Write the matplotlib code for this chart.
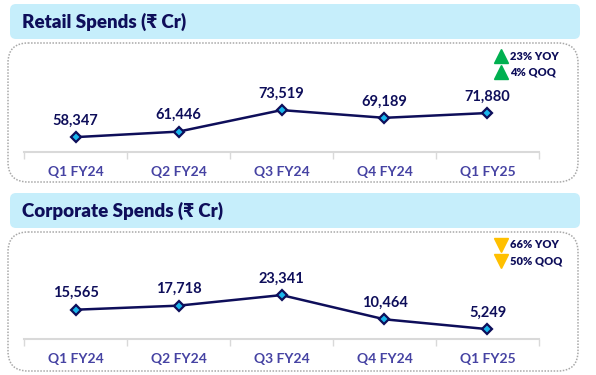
import matplotlib

matplotlib.use("Agg")
import matplotlib.pyplot as plt
from matplotlib.patches import FancyBboxPatch

plt.rcParams["font.family"] = ["Lato", "Noto Sans", "DejaVu Sans"]
plt.rcParams["font.weight"] = "bold"

quarters = ["Q1 FY24", "Q2 FY24", "Q3 FY24", "Q4 FY24", "Q1 FY25"]
retail = [58347, 61446, 73519, 69189, 71880]
corporate = [15565, 17718, 23341, 10464, 5249]
retail_badges = ["23% YOY", "4% QOQ"]
corporate_badges = ["66% YOY", "50% QOQ"]

NAVY = "#0E0E5A"
TICK_BLUE = "#4643A3"
BAND = "#C6EEFB"
CYAN = "#19B6EC"

W, H = 596, 375
fig = plt.figure(figsize=(W / 100, H / 100), dpi=100)
fig.patch.set_facecolor("white")

# overlay in pixel coordinates for the boxes, headers and badges
ov = fig.add_axes([0, 0, 1, 1])
ov.set_xlim(0, W)
ov.set_ylim(H, 0)
ov.axis("off")


def panel(top, title, badges, up):
    ov.add_patch(FancyBboxPatch((10, top), 570, 35, boxstyle="round,pad=0,rounding_size=6",
                                fc=BAND, ec="none"))
    ov.text(22, top + 18, title, fontsize=13.5, color=NAVY, fontweight="heavy", va="center")
    ov.add_patch(FancyBboxPatch((8, top + 39), 570, 139, boxstyle="round,pad=0,rounding_size=20",
                                fc="none", ec="#A8A8A8", lw=1.1, ls=(0, (1, 1))))
    marker = "^" if up else "v"
    col = "#00B050" if up else "#FFC000"
    for i, txt in enumerate(badges):
        y = top + 52 + i * 16
        ov.plot(501, y, marker=marker, ms=10.5, color=col, mec=col)
        ov.text(510, y, txt, fontsize=8, color=NAVY, fontweight="heavy", va="center")


panel(4, "Retail Spends (₹ Cr)", retail_badges, True)
panel(193, "Corporate Spends (₹ Cr)", corporate_badges, False)


def line_chart(rect_px, values, ylim):
    left, bottom, width, height = rect_px
    ax = fig.add_axes([left / W, 1 - bottom / H, width / W, height / H])
    ax.patch.set_alpha(0)
    x = range(len(values))
    ax.plot(x, values, color=NAVY, lw=1.8, marker="D", ms=5, mfc=CYAN, mec=NAVY,
            mew=1.6, clip_on=False, zorder=3)
    for xi, v in zip(x, values):
        ax.annotate(f"{v:,}", (xi, v), xytext=(0, 9), textcoords="offset points",
                    ha="center", va="baseline", fontsize=10.5, color=NAVY, fontweight="bold")
    ax.set_xlim(-0.5, len(values) - 0.5)
    ax.set_ylim(*ylim)
    ax.set_xticks(list(x))
    ax.set_xticklabels(quarters, fontsize=10, color=TICK_BLUE, fontweight="bold")
    ax.set_xticks([i - 0.5 for i in range(len(values) + 1)], minor=True)
    ax.tick_params(axis="x", which="major", length=0, pad=10)
    ax.tick_params(axis="x", which="minor", length=5, width=1, color="#D9D9D9")
    ax.set_yticks([])
    for s in ["top", "left", "right"]:
        ax.spines[s].set_visible(False)
    ax.spines["bottom"].set_color("#D9D9D9")
    ax.spines["bottom"].set_linewidth(1.5)
    return ax


line_chart((24, 152, 515, 57), retail, (50000, 82000))
line_chart((24, 339, 515, 54), corporate, (0, 28700))

fig.savefig("out.png", dpi=100)
